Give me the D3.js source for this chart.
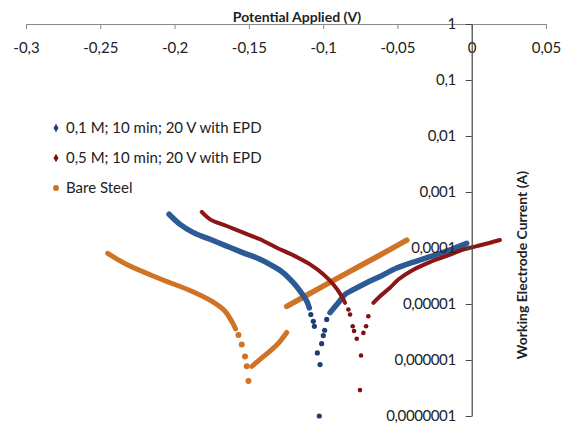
<!DOCTYPE html>
<html>
<head>
<meta charset="utf-8">
<script src="https://cdn.jsdelivr.net/npm/d3@7"></script>
<style>
  body { margin: 0; background: #fff; }
  svg text { font-family: Lato, "Open Sans", sans-serif; }
</style>
</head>
<body>
<div id="chart"></div>
<script>
// ticks
var xTicks = [-0.3, -0.25, -0.2, -0.15, -0.1, -0.05, 0, 0.05]
var yTicks = [1e-7, 1e-6, 1e-5, 1e-4, 1e-3, 1e-2, 1e-1, 1]

var seriesNames = ['0,1 M; 10 min; 20 V with EPD', '0,5 M; 10 min; 20 V with EPD', 'Bare Steel']
var seriesColors = ['#2c5a94', '#8c1515', '#cf7426']
var dotColors = ['#1f3d74', '#7a1010', '#cf7426']

// [potential V, current A]
// 0,1 M
var blueCathodic = [[-0.2037, 4.0e-4], [-0.1963, 2.64e-4], [-0.1873, 1.88e-4], [-0.1761, 1.43e-4], [-0.1649, 1.08e-4],
	[-0.1537, 8.2e-5], [-0.1425, 6.3e-5], [-0.1335, 4.7e-5], [-0.1268, 3.6e-5], [-0.1201, 2.4e-5],
	[-0.1155, 1.7e-5], [-0.1110, 1.12e-5], [-0.1093, 8.5e-6]]
var blueDots = [[-0.1083, 6.5e-6], [-0.1066, 4.9e-6], [-0.1059, 4.0e-6], [-0.1039, 1.34e-6], [-0.1021, 8.3e-7],
	[-0.1026, 1.0e-7], [-0.1010, 1.96e-6], [-0.0999, 2.73e-6], [-0.0976, 5.3e-6], [-0.0990, 3.4e-6]]
var blueAnodic = [[-0.0954, 7.0e-6], [-0.0898, 1.05e-5], [-0.0853, 1.48e-5], [-0.0797, 1.8e-5], [-0.0707, 2.4e-5],
	[-0.0617, 3.1e-5], [-0.0505, 4.4e-5], [-0.0393, 5.6e-5], [-0.0281, 7.0e-5], [-0.0168, 8.8e-5], [-0.0034, 1.21e-4]]

// 0,5 M
var redCathodic = [[-0.1817, 4.4e-4], [-0.1761, 3.25e-4], [-0.1649, 2.47e-4], [-0.1537, 1.88e-4], [-0.1425, 1.43e-4],
	[-0.1312, 1.01e-4], [-0.1201, 7.4e-5], [-0.1088, 5.1e-5], [-0.0999, 3.4e-5], [-0.0931, 2.23e-5],
	[-0.0875, 1.38e-5], [-0.0853, 1.05e-5]]
var redDots = [[-0.0830, 8.0e-6], [-0.0819, 6.5e-6], [-0.0801, 4.0e-6], [-0.0792, 3.3e-6], [-0.0774, 2.4e-6],
	[-0.0745, 1.2e-6], [-0.0752, 2.9e-7], [-0.0729, 3.05e-6], [-0.0711, 4.0e-6], [-0.0696, 6.05e-6]]
var redAnodic = [[-0.0662, 1.05e-5], [-0.0617, 1.38e-5], [-0.0550, 1.95e-5], [-0.0494, 2.74e-5], [-0.0393, 4.1e-5],
	[-0.0281, 5.6e-5], [-0.0168, 7.2e-5], [-0.0057, 9.4e-5], [0.0034, 1.08e-4], [0.0123, 1.24e-4], [0.0190, 1.39e-4]]

// bare steel
var bareCathodic = [[-0.2450, 8.0e-5], [-0.2311, 4.9e-5], [-0.2086, 2.74e-5], [-0.1884, 1.69e-5], [-0.1750, 1.12e-5],
	[-0.1660, 7.4e-6], [-0.1615, 4.9e-6], [-0.1590, 3.6e-6]]
var bareDots = [[-0.1570, 2.8e-6], [-0.1548, 1.9e-6], [-0.1526, 1.16e-6], [-0.1514, 7.7e-7], [-0.1503, 4.2e-7]]
var bareAnodicLow = [[-0.1480, 7.7e-7], [-0.1413, 1.09e-6], [-0.1346, 1.53e-6], [-0.1290, 2.16e-6], [-0.1245, 3.1e-6]]
var bareAnodicHigh = [[-0.1245, 9.1e-6], [-0.1021, 1.94e-5], [-0.0819, 3.83e-5], [-0.0617, 7.5e-5], [-0.0437, 1.38e-4]]

var W = 561, H = 423

var svg = d3.select('#chart').append('svg')
	.attr('width', W)
	.attr('height', H)

var x = d3.scaleLinear().domain([-0.3, 0.05]).range([26, 546])
var y = d3.scaleLog().domain([1e-7, 1]).range([416, 24])

var locale = d3.formatLocale({ decimal: ',', thousands: '.', grouping: [3], currency: ['', ''], minus: '-' })
var fx = locale.format('~g')
var fy = locale.format('.7~f')

// x axis along the top
var xAxis = svg.append('g')
	.attr('transform', `translate(0,${y(1)})`)
	.call(d3.axisBottom(x).tickValues(xTicks).tickFormat(fx).tickSize(5).tickPadding(13).tickSizeOuter(0))
xAxis.select('.domain').attr('stroke', '#8a8a8a')
xAxis.selectAll('.tick line').attr('stroke', '#8a8a8a')
xAxis.selectAll('.tick text').attr('font-size', 15).attr('fill', '#222')

svg.append('text')
	.attr('x', 297).attr('y', 22)
	.attr('text-anchor', 'middle')
	.attr('font-size', 14).attr('font-weight', 'bold').attr('fill', '#222')
	.text('Potential Applied (V)')

// the curves
var line = d3.line()
	.x(d => x(d[0]))
	.y(d => y(d[1]))
	.curve(d3.curveCatmullRom)

var plot = svg.append('g')
var lines = [
	[bareCathodic, 2, 5], [bareAnodicLow, 2, 5], [bareAnodicHigh, 2, 5.5],
	[blueCathodic, 0, 5.5], [blueAnodic, 0, 5.5],
	[redCathodic, 1, 4], [redAnodic, 1, 4]
]
lines.forEach(l => {
	plot.append('path')
		.datum(l[0])
		.attr('d', line)
		.attr('fill', 'none')
		.attr('stroke', seriesColors[l[1]])
		.attr('stroke-width', l[2])
		.attr('stroke-linecap', 'round')
		.attr('stroke-linejoin', 'round')
})

var dotSets = [[bareDots, 2, 3], [blueDots, 0, 2.6], [redDots, 1, 2.3]]
dotSets.forEach(s => {
	plot.append('g').selectAll('circle')
		.data(s[0])
		.join('circle')
		.attr('cx', d => x(d[0]))
		.attr('cy', d => y(d[1]))
		.attr('r', s[2])
		.attr('fill', dotColors[s[1]])
})

// y axis at V = 0
var yAxis = svg.append('g')
	.attr('transform', `translate(${x(0)},0)`)
	.call(d3.axisLeft(y).tickValues(yTicks).tickFormat(fy).tickSize(6).tickPadding(10).tickSizeOuter(0))
yAxis.select('.domain').attr('stroke', '#444').attr('stroke-width', 1.2)
yAxis.selectAll('.tick line').attr('stroke', '#444')
yAxis.selectAll('.tick text').attr('font-size', 15).attr('letter-spacing', '-0.4px').attr('fill', '#222')

svg.append('text')
	.attr('transform', `translate(527,${265}) rotate(-90)`)
	.attr('text-anchor', 'middle')
	.attr('font-size', 14).attr('font-weight', 'bold').attr('fill', '#222')
	.text('Working Electrode Current (A)')

// legend
var legend = svg.append('g').attr('transform', 'translate(56,128)')
var rows = legend.selectAll('g')
	.data(seriesNames)
	.join('g')
	.attr('transform', (d, i) => `translate(0,${i * 30})`)
rows.append('path')
	.attr('d', (d, i) => d3.symbol().type(i < 2 ? d3.symbolDiamond : d3.symbolCircle).size(i < 2 ? 22 : 28)())
	.attr('fill', (d, i) => dotColors[i])
rows.append('text')
	.attr('x', 10).attr('dy', '0.35em')
	.attr('font-size', 15).attr('fill', '#222')
	.text(d => d)
</script>
</body>
</html>
